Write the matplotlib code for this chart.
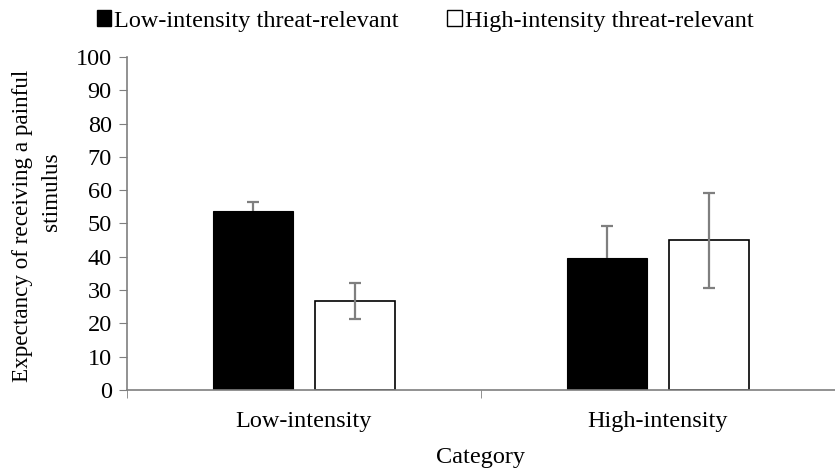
import numpy as np
import matplotlib.pyplot as plt
from matplotlib.patches import Patch

plt.rcParams['font.family'] = ['Liberation Serif', 'DejaVu Serif']

categories = ['Low-intensity', 'High-intensity']
series_names = ['Low-intensity threat-relevant', 'High-intensity threat-relevant']
low_vals = [53.8, 39.5]
low_err = [2.7, 9.6]
high_vals = [26.7, 44.9]
high_err = [5.5, 14.2]
y_ticks = list(range(0, 101, 10))

FS = 17.5

fig = plt.figure(figsize=(8.35, 4.68), dpi=100)
ax = fig.add_axes([0.152, 0.1667, 0.848, 0.7116])

x = np.arange(len(categories))
w = 0.225
off = 0.144
err_kw = dict(ecolor='#7f7f7f', elinewidth=1.6, capsize=4, capthick=1.6, zorder=3)

ax.bar(x - off, low_vals, w, color='black', edgecolor='black', linewidth=0.8, zorder=2)
# black bars: only the upper error bar is visible
eb = ax.errorbar(x - off, low_vals, yerr=[np.zeros(len(low_err)), low_err],
                 fmt='none', **err_kw)
eb[1][0].remove()  # drop the lower cap

ax.bar(x + off, high_vals, w, color='white', edgecolor='black', linewidth=1.2, zorder=2)
ax.errorbar(x + off, high_vals, yerr=high_err, fmt='none', **err_kw)

ax.set_xlim(-0.5, 1.5)
ax.set_ylim(0, 100)
ax.set_yticks(y_ticks)
ax.set_xticks(x)
ax.set_xticklabels(categories)
ax.set_xticks([-0.5, 0.5, 1.5], minor=True)
ax.tick_params(axis='x', which='major', length=0, labelsize=FS, pad=15)
ax.tick_params(axis='x', which='minor', length=6, color='#7f7f7f', direction='out')
ax.tick_params(axis='y', length=6, color='#7f7f7f', direction='out', labelsize=FS, pad=5)

for s in ['top', 'right']:
    ax.spines[s].set_visible(False)
for s in ['left', 'bottom']:
    ax.spines[s].set_color('#7f7f7f')
    ax.spines[s].set_linewidth(1.2)

ax.set_xlabel('Category', fontsize=FS, labelpad=11)

# y label in two lines, as in the original
fig.text(23 / 835, 1 - 226 / 468, 'Expectancy of receiving a painful', rotation=90,
         ha='center', va='center', fontsize=16.7)
fig.text(52 / 835, 1 - 192 / 468, 'stimulus', rotation=90,
         ha='center', va='center', fontsize=16.7)

handles = [Patch(facecolor='black', edgecolor='black'),
           Patch(facecolor='white', edgecolor='black')]
fig.legend(handles, series_names, loc='center', bbox_to_anchor=(425 / 835, 1 - 21 / 468),
           ncol=2, frameon=False, fontsize=FS, handlelength=0.6, handleheight=0.6,
           handletextpad=0.12, columnspacing=2.0, borderpad=0)

fig.savefig('out.png', dpi=100)
